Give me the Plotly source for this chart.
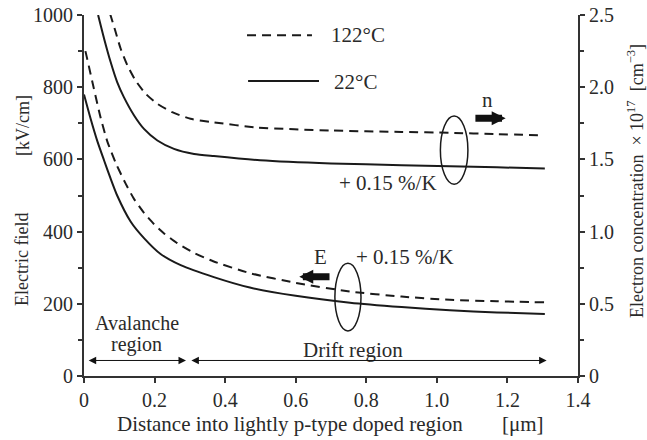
import plotly.graph_objects as go

# ---- data ----
# Electric field [kV/cm] (left axis)
e22_x = [0, 0.019, 0.038, 0.057, 0.075, 0.094, 0.132, 0.170, 0.217, 0.274, 0.368, 0.47, 0.6, 0.754, 0.9, 1.037, 1.17, 1.306]
e22_y = [780, 712, 650, 597, 548, 500, 428, 382, 338, 307, 274, 245, 222, 203, 191, 182, 176, 172]
e122_x = [0.004, 0.0094, 0.028, 0.047, 0.066, 0.09, 0.118, 0.142, 0.170, 0.198, 0.227, 0.264, 0.312, 0.366, 0.47, 0.6, 0.754, 0.9, 1.037, 1.17, 1.306]
e122_y = [900, 877, 796, 716, 650, 590, 533, 490, 452, 421, 395, 368, 341, 318, 285, 258, 234, 220, 211, 207, 204]
# Electron concentration x1e17 [cm^-3] (right axis)
n22_x = [0.040, 0.057, 0.0755, 0.094, 0.113, 0.142, 0.170, 0.208, 0.255, 0.312, 0.368, 0.499, 0.7, 0.9, 1.037, 1.17, 1.306]
n22_y = [2.5, 2.336, 2.174, 2.035, 1.931, 1.804, 1.711, 1.631, 1.573, 1.538, 1.523, 1.494, 1.472, 1.46, 1.453, 1.445, 1.437]
n122_x = [0.0737, 0.0897, 0.104, 0.123, 0.146, 0.175, 0.208, 0.250, 0.302, 0.364, 0.489, 0.7, 0.9, 1.037, 1.17, 1.301]
n122_y = [2.51, 2.382, 2.266, 2.151, 2.047, 1.954, 1.885, 1.827, 1.781, 1.758, 1.721, 1.70, 1.69, 1.684, 1.675, 1.666]

x_ticks = [0, 0.2, 0.4, 0.6, 0.8, 1.0, 1.2, 1.4]
x_ticklabels = ["0", "0.2", "0.4", "0.6", "0.8", "1.0", "1.2", "1.4"]
yl_ticks = [0, 200, 400, 600, 800, 1000]
yr_ticks = [0, 0.5, 1.0, 1.5, 2.0, 2.5]
yr_ticklabels = ["0", "0.5", "1.0", "1.5", "2.0", "2.5"]

FONT = "Liberation Serif"
TXT = "#2a2a2a"
LINE = "#1a1a1a"
DASH = "9px,6px"

fig = go.Figure()
ls = dict(shape="spline", smoothing=0.6)
fig.add_trace(go.Scatter(x=e22_x, y=e22_y, mode="lines", line=dict(color=LINE, width=2, **ls), yaxis="y"))
fig.add_trace(go.Scatter(x=e122_x, y=e122_y, mode="lines", line=dict(color=LINE, width=2, dash=DASH, **ls), yaxis="y"))
fig.add_trace(go.Scatter(x=n22_x, y=n22_y, mode="lines", line=dict(color=LINE, width=2, **ls), yaxis="y2"))
fig.add_trace(go.Scatter(x=n122_x, y=n122_y, mode="lines", line=dict(color=LINE, width=2, dash=DASH, **ls), yaxis="y2"))

axis_common = dict(showgrid=False, zeroline=False, showline=True, linecolor="#333333", linewidth=2,
                   ticks="outside", ticklen=5, tickwidth=1.5, tickcolor="#333333", automargin=False,
                   ticklabeloverflow="allow",
                   tickfont=dict(family=FONT, size=20, color=TXT))

L, R, T, B = 84, 578, 15, 376
fig.update_layout(
    width=647, height=440,
    margin=dict(l=L, r=647 - R, t=T, b=440 - B),
    paper_bgcolor="white", plot_bgcolor="white",
    showlegend=False,
    xaxis=dict(range=[0, 1.4], tickvals=x_ticks, ticktext=x_ticklabels, **axis_common),
    yaxis=dict(range=[0, 1000], tickvals=yl_ticks,
               minor=dict(dtick=100, tick0=0, ticks="outside", ticklen=4, tickcolor="#333333"),
               **axis_common),
    yaxis2=dict(range=[0, 2.5], overlaying="y", side="right", anchor="x", tickvals=yr_ticks, ticktext=yr_ticklabels,
                minor=dict(dtick=0.25, tick0=0, ticks="outside", ticklen=4, tickcolor="#333333"),
                **axis_common),
)

ann = []
def txt(x, y, s, xanchor="center", size=21, **kw):
    ann.append(dict(x=x, y=y, xref="x", yref="y", text=s, showarrow=False, xanchor=xanchor, yanchor="middle",
                    borderpad=0, font=dict(family=FONT, size=size, color=TXT), **kw))

txt(0.697, 944, "122°C", xanchor="left")
txt(0.705, 814, "22°C", xanchor="left")
txt(1.144, 764, "n")
txt(0.720, 534, "+ 0.15 %/K", xanchor="left")
txt(0.669, 330, "E")
txt(0.768, 330, "+ 0.15 %/K", xanchor="left")
txt(0.149, 148, "Avalanche", size=20)
txt(0.149, 87, "region", size=20)
txt(0.762, 71, "Drift region")

def arrow(x0, x1, y, width, size, both=False):
    ann.append(dict(x=x1, y=y, ax=x0, ay=y, xref="x", yref="y", axref="x", ayref="y", text="",
                    showarrow=True, arrowhead=2, arrowsize=size, arrowwidth=width, arrowcolor="#111111",
                    arrowside="end+start" if both else "end", startarrowhead=2, startarrowsize=size))

arrow(0.009, 0.289, 43, 1, 1.5, both=True)
arrow(0.300, 1.311, 43, 1, 1.5, both=True)
arrow(1.105, 1.195, 714, 7, 0.4)
arrow(0.70, 0.61, 275, 7, 0.4)

# axis titles (positions given in page pixels, converted to paper coords below)
ptitles = [
    dict(x=22, y=260, text="Electric field", textangle=-90, size=18),
    dict(x=23, y=126, text="[kV/cm]", textangle=-90, size=18),
    dict(x=635, y=181, text="Electron concentration\u00a0\u00a0× 10<sup>17</sup>\u00a0\u00a0[cm<sup>−3</sup>]", textangle=-90, size=18),
    dict(x=290, y=424, text="Distance into lightly p-type doped region", textangle=0, size=21),
    dict(x=523, y=424, text="[μm]", textangle=0, size=21),
]
for p in ptitles:
    ann.append(dict(x=(p["x"] - L) / (R - L), y=(B - p["y"]) / (B - T), xref="paper", yref="paper",
                    text=p["text"], textangle=p["textangle"], showarrow=False, xanchor="center", yanchor="middle",
                    borderpad=0, font=dict(family=FONT, size=p["size"], color=TXT)))

shapes = [
    dict(type="line", xref="x", yref="y", x0=0.462, x1=0.646, y0=944, y1=944, line=dict(color=LINE, width=2, dash=DASH)),
    dict(type="line", xref="x", yref="y", x0=0.465, x1=0.666, y0=817, y1=817, line=dict(color=LINE, width=2)),
    dict(type="circle", xref="x", yref="y", x0=1.01, x1=1.088, y0=531, y1=720, line=dict(color=LINE, width=1.5)),
    dict(type="circle", xref="x", yref="y", x0=0.711, x1=0.785, y0=125, y1=312, line=dict(color=LINE, width=1.5)),
]
fig.update_layout(annotations=ann, shapes=shapes)
fig.write_html("out.html", config={"displayModeBar": False},
               post_script="document.body.style.margin='0';document.body.style.overflow='hidden';")
